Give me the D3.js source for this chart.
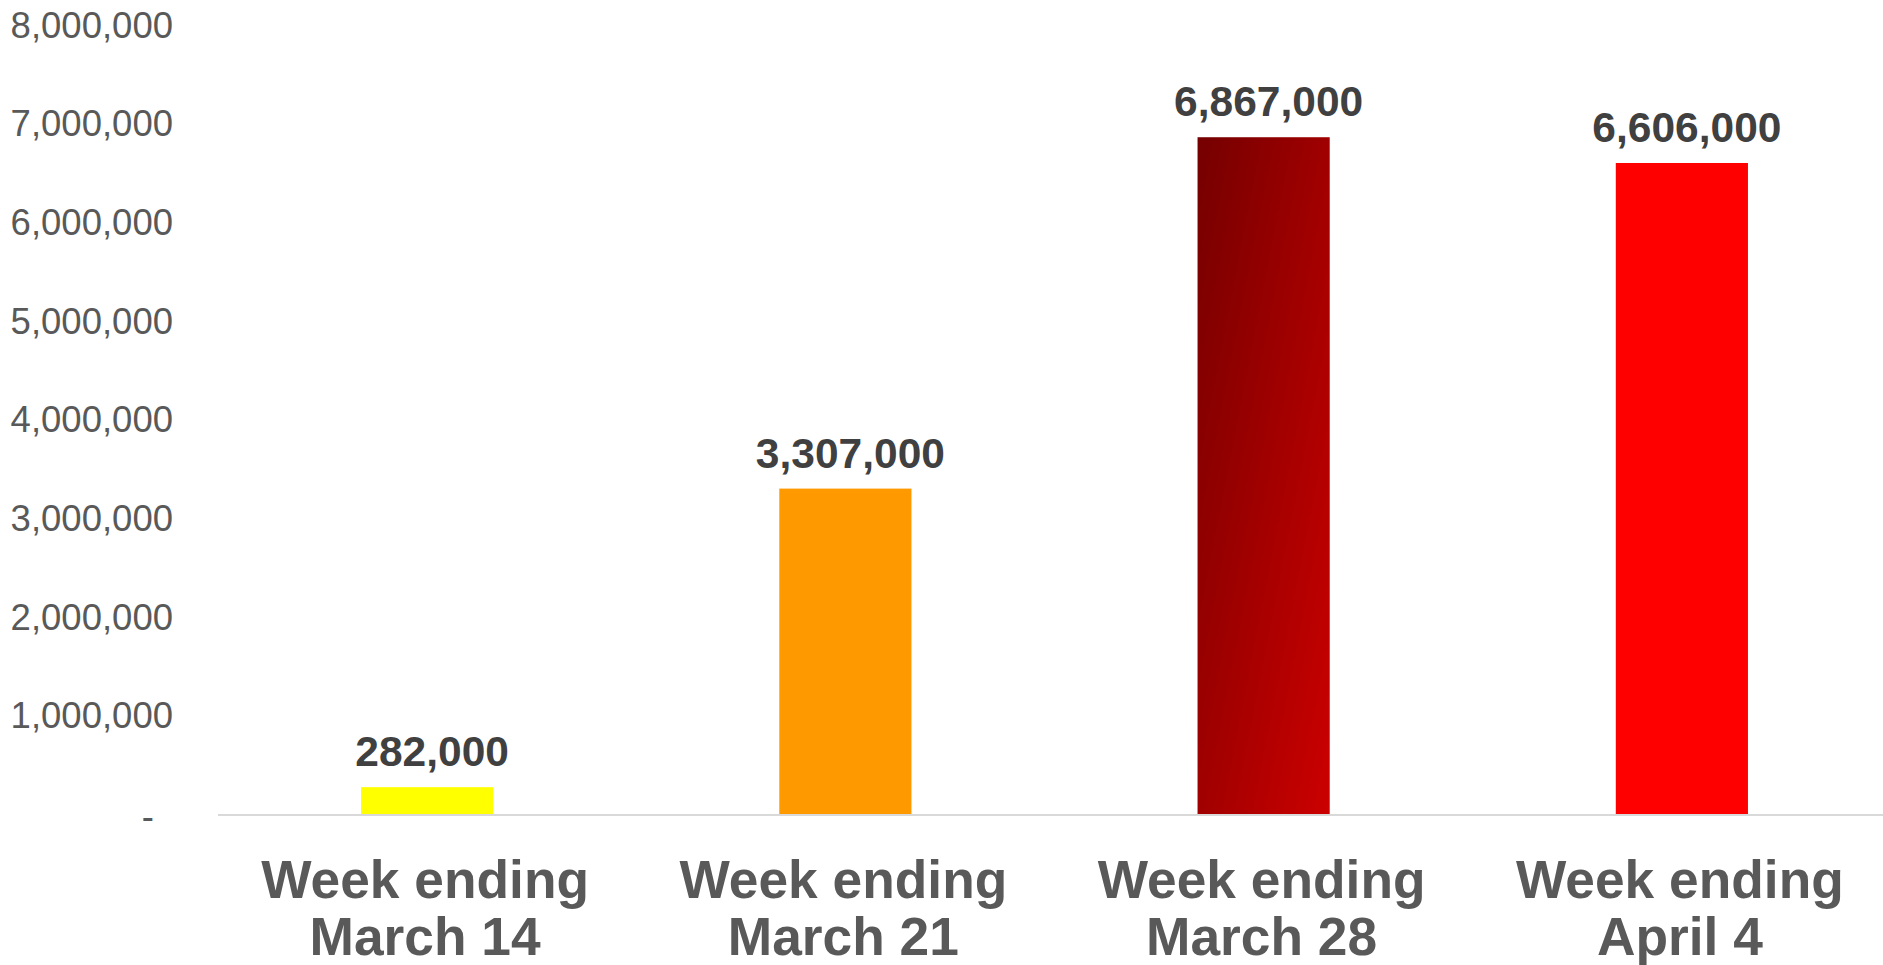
<!DOCTYPE html>
<meta charset="utf-8">
<style>
    body {
        margin: 0;
        background-color: #ffffff;
        overflow: hidden;
    }
    svg text {
        font-family: "Liberation Sans", Arial, sans-serif;
    }
    .y.axis text {
        font-size: 36.5px;
        fill: #595959;
    }
    .y.axis path,
    .y.axis line {
        display: none;
    }
    .baseline {
        stroke: #d9d9d9;
        stroke-width: 2px;
        shape-rendering: crispEdges;
    }
    .textlabel {
        font-size: 42.5px;
        font-weight: bold;
        fill: #404040;
    }
    .catlabel {
        font-size: 53.3px;
        font-weight: bold;
        fill: #595959;
    }
</style>
<svg width="1883" height="965"></svg>
<script src="https://cdn.jsdelivr.net/npm/d3@7"></script>

<script>
    var weeks = ["March 14", "March 21", "March 28", "April 4"];
    var claims = [282000, 3307000, 6867000, 6606000];
    var barColors = ["#ffff00", "#ff9900", "url(#darkred)", "#ff0000"];
    var yTicks = [0, 1000000, 2000000, 3000000, 4000000, 5000000, 6000000, 7000000, 8000000];

    var svg = d3.select("svg");

    var data = weeks.map(function(w, i) {
        return {week: w, value: claims[i], color: barColors[i]};
    });

    // gradient for the March 28 bar
    var grad = svg.append("defs").append("linearGradient")
        .attr("id", "darkred")
        .attr("x1", 0).attr("y1", 0)
        .attr("x2", 1).attr("y2", 1);
    grad.append("stop").attr("offset", "0%").attr("stop-color", "#750000");
    grad.append("stop").attr("offset", "100%").attr("stop-color", "#cc0000");

    var x = d3.scaleBand()
        .domain(weeks)
        .range([218, 1891])
        .paddingInner(0.684)
        .paddingOuter(0.342);

    var y = d3.scaleLinear()
        .domain([0, 8000000])
        .range([815, 25.4]);

    var fmt = d3.format(",");

    // y axis, labels only
    var yAxis = svg.append("g")
        .attr("class", "y axis")
        .attr("transform", "translate(173,0)")
        .call(d3.axisLeft(y).tickValues(yTicks).tickSize(0).tickPadding(0)
            .tickFormat(function(d) { return d === 0 ? "-" : fmt(d); }));
    yAxis.select(".domain").remove();
    yAxis.selectAll(".tick text")
        .filter(function(d) { return d === 0; })
        .attr("dx", -19)
        .attr("dy", "0.37em");

    // bars
    svg.selectAll(".bar")
        .data(data)
        .enter().append("rect")
        .attr("class", "bar")
        .attr("x", function(d) { return x(d.week); })
        .attr("width", x.bandwidth())
        .attr("y", function(d) { return y(d.value); })
        .attr("height", function(d) { return y(0) - y(d.value); })
        .style("fill", function(d) { return d.color; });

    // baseline
    svg.append("line")
        .attr("class", "baseline")
        .attr("x1", 218)
        .attr("x2", 1883)
        .attr("y1", y(0))
        .attr("y2", y(0));

    // value labels
    svg.selectAll(".textlabel")
        .data(data)
        .enter().append("text")
        .attr("class", "textlabel")
        .attr("text-anchor", "middle")
        .attr("x", function(d) { return x(d.week) + x.bandwidth() / 2 + 5; })
        .attr("y", function(d) { return y(d.value) - 21; })
        .text(function(d) { return fmt(d.value); });

    // category labels (two lines)
    var cats = svg.selectAll(".catlabel")
        .data(data)
        .enter().append("text")
        .attr("class", "catlabel")
        .attr("text-anchor", "middle")
        .attr("x", function(d) { return x(d.week) + x.bandwidth() / 2 - 2; })
        .attr("y", y(0) + 83);
    cats.append("tspan")
        .attr("x", function(d) { return x(d.week) + x.bandwidth() / 2 - 2; })
        .text("Week ending");
    cats.append("tspan")
        .attr("x", function(d) { return x(d.week) + x.bandwidth() / 2 - 2; })
        .attr("dy", 57)
        .text(function(d) { return d.week; });
</script>
